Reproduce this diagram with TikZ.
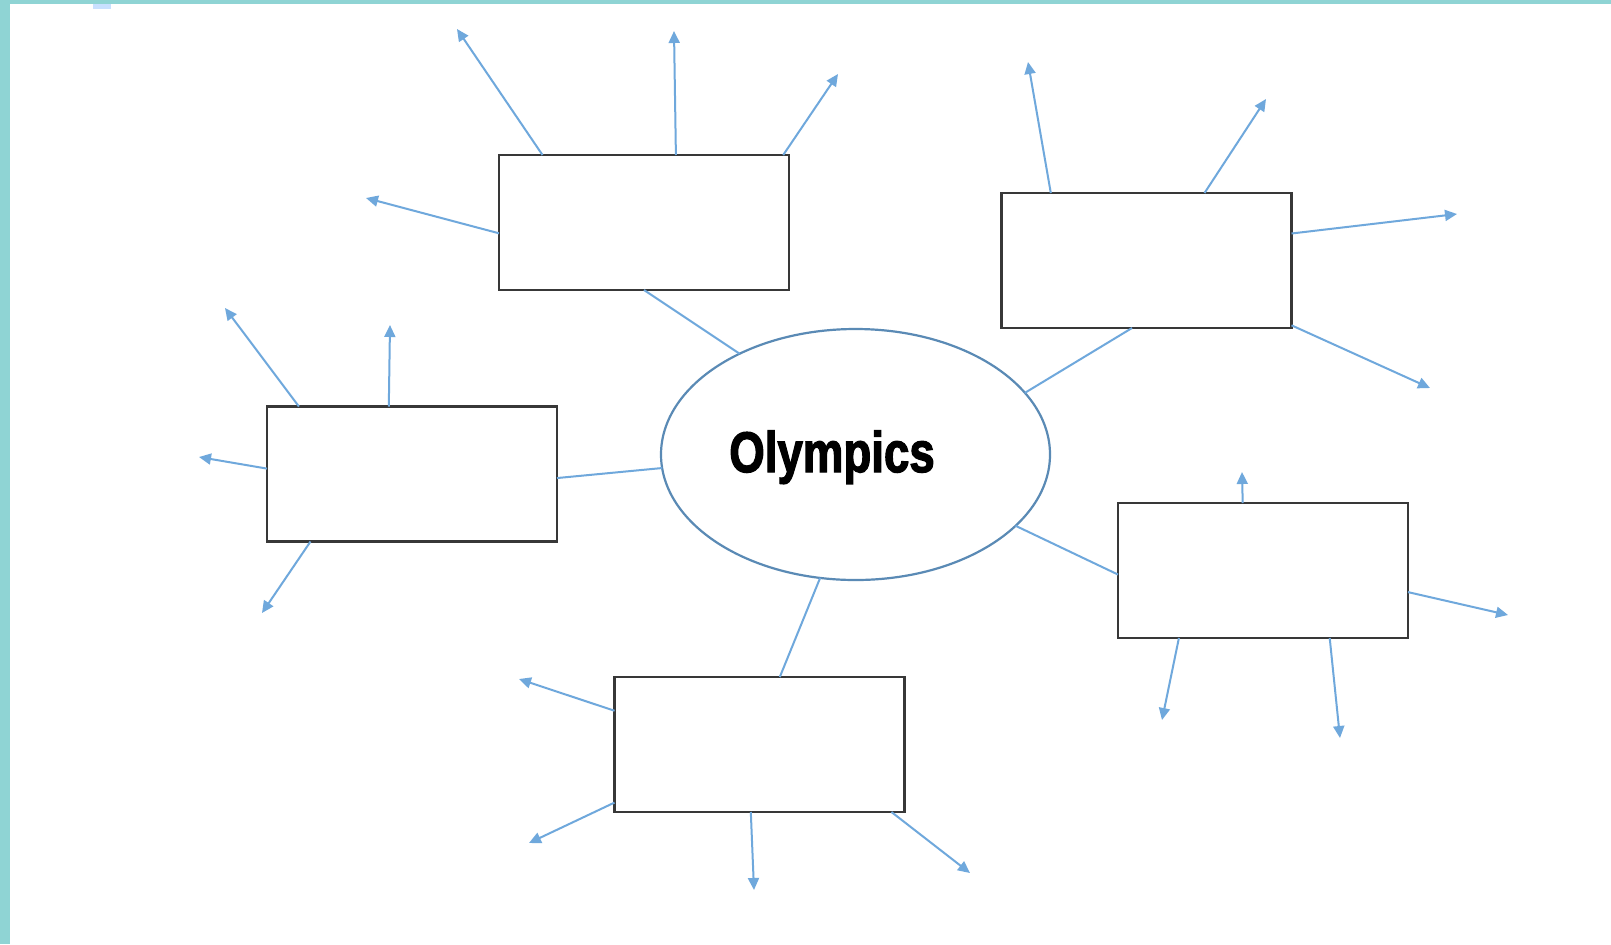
\documentclass[tikz,border=0pt]{standalone}
\usepackage{fontspec}
\usepackage{graphicx}
\usetikzlibrary{calc,arrows.meta,shapes.geometric}
\newfontfamily\olyfont[FakeBold=2.5]{Liberation Sans Bold}
\definecolor{teal}{HTML}{8FD4D4}
\definecolor{arrowblue}{HTML}{6FA8DC}
\definecolor{ellblue}{HTML}{5A8AB5}
\definecolor{boxgray}{HTML}{383838}
\definecolor{tabblue}{HTML}{C8E0FF}
\tikzset{
  infobox/.style={draw=boxgray, line width=1.4pt, fill=white, minimum width=145pt, minimum height=67.5pt, inner sep=0pt, outer sep=0pt},
  hub/.style={ellipse, draw=ellblue, line width=1.1pt, fill=white, minimum width=194.5pt, minimum height=125.5pt, inner sep=0pt, outer sep=0pt},
  link/.style={draw=arrowblue, line width=1pt},
  spoke/.style={draw=arrowblue, line width=1pt, -{Triangle[length=6pt,width=5.5pt]}},
}
\begin{document}
\begin{tikzpicture}[x=0.5pt,y=-0.5pt]
\useasboundingbox (0,0) rectangle (1611,944);
\fill[white] (0,0) rectangle (1611,944);
\fill[teal] (0,0) rectangle (10,944);
\fill[teal] (0,0) rectangle (1611,4);
\fill[tabblue] (93,4) rectangle (111,9);

% hub
\node[hub] (e) at (855.5,454.5) {};
\node[anchor=base, inner sep=0pt] (olabel) at (832,472) {\scalebox{0.815}[1.02]{\olyfont\fontsize{28}{30}\selectfont Olympics}};

% boxes
\node[infobox] (tl) at (644,222.5) {};
\node[infobox] (tr) at (1146.5,260.5) {};
\node[infobox] (lf) at (412,474) {};
\node[infobox] (bt) at (759.5,744.5) {};
\node[infobox] (rt) at (1263,570.5) {};

% hub links
\draw[link] (e.139.4) -- ($(tl.south west)!0.50!(tl.south east)$);
\draw[link] (e.20.8) -- ($(tr.south west)!0.45!(tr.south east)$);
\draw[link] (e.184.6) -- ($(lf.north east)!0.53!(lf.south east)$);
\draw[link] (e.336.9) -- ($(rt.north west)!0.53!(rt.south west)$);
\draw[link] (e.254.2) -- ($(bt.north west)!0.57!(bt.north east)$);

% tips
\coordinate (tl1) at (457,29);
\coordinate (tl2) at (674,31);
\coordinate (tl3) at (838,74);
\coordinate (tl4) at (366,198);
\coordinate (tr1) at (1028,62);
\coordinate (tr2) at (1266,99);
\coordinate (tr3) at (1457,214);
\coordinate (tr4) at (1430,388);
\coordinate (lf1) at (225,308);
\coordinate (lf2) at (390,325);
\coordinate (lf3) at (199,457);
\coordinate (lf4) at (262,613);
\coordinate (bt1) at (519,679);
\coordinate (bt2) at (529,843);
\coordinate (bt3) at (754,890);
\coordinate (bt4) at (970,873);
\coordinate (rt1) at (1242,472);
\coordinate (rt2) at (1508,615);
\coordinate (rt3) at (1162,720);
\coordinate (rt4) at (1340,738);

% spokes
\draw[spoke] ($(tl.north west)!0.15!(tl.north east)$) -- (tl1);
\draw[spoke] ($(tl.north west)!0.61!(tl.north east)$) -- (tl2);
\draw[spoke] ($(tl.north west)!0.98!(tl.north east)$) -- (tl3);
\draw[spoke] ($(tl.north west)!0.58!(tl.south west)$) -- (tl4);

\draw[spoke] ($(tr.north west)!0.17!(tr.north east)$) -- (tr1);
\draw[spoke] ($(tr.north west)!0.70!(tr.north east)$) -- (tr2);
\draw[spoke] ($(tr.north east)!0.30!(tr.south east)$) -- (tr3);
\draw[spoke] ($(tr.north east)!0.98!(tr.south east)$) -- (tr4);

\draw[spoke] ($(lf.north west)!0.11!(lf.north east)$) -- (lf1);
\draw[spoke] ($(lf.north west)!0.42!(lf.north east)$) -- (lf2);
\draw[spoke] ($(lf.north west)!0.46!(lf.south west)$) -- (lf3);
\draw[spoke] ($(lf.south west)!0.15!(lf.south east)$) -- (lf4);

\draw[spoke] ($(bt.north west)!0.25!(bt.south west)$) -- (bt1);
\draw[spoke] ($(bt.north west)!0.93!(bt.south west)$) -- (bt2);
\draw[spoke] ($(bt.south west)!0.47!(bt.south east)$) -- (bt3);
\draw[spoke] ($(bt.south west)!0.955!(bt.south east)$) -- (bt4);

\draw[spoke] ($(rt.north west)!0.43!(rt.north east)$) -- (rt1);
\draw[spoke] ($(rt.north east)!0.66!(rt.south east)$) -- (rt2);
\draw[spoke] ($(rt.south west)!0.21!(rt.south east)$) -- (rt3);
\draw[spoke] ($(rt.south west)!0.73!(rt.south east)$) -- (rt4);
\end{tikzpicture}
\end{document}
